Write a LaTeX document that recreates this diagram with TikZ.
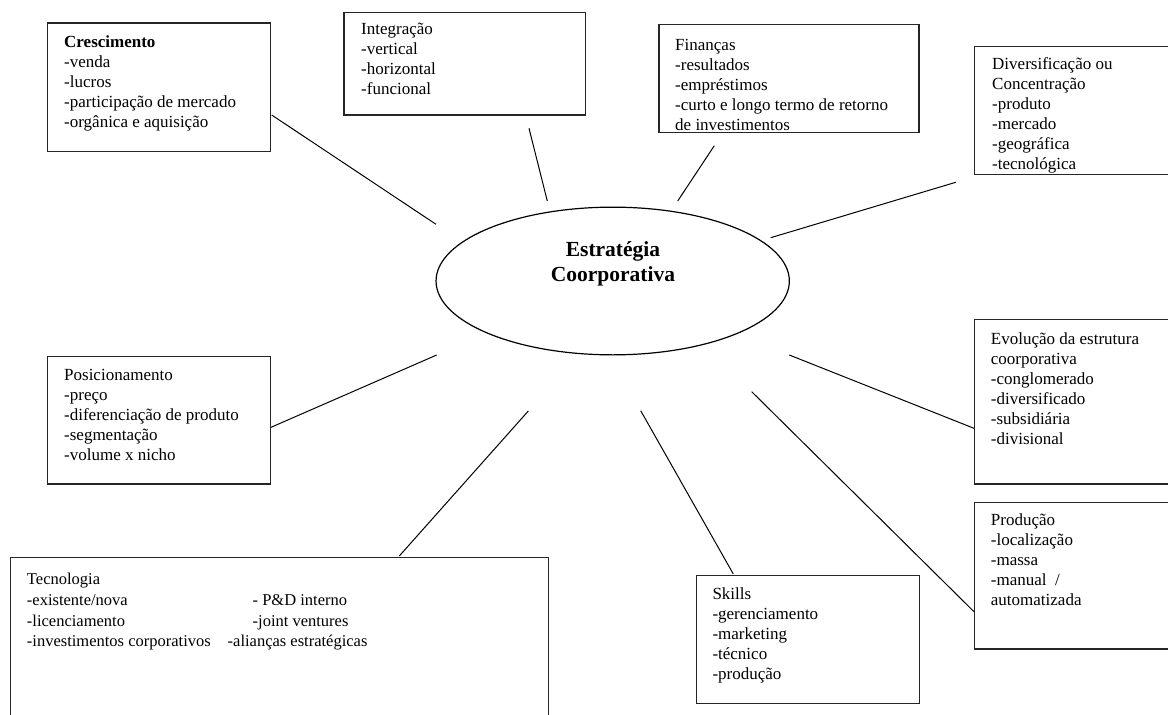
\documentclass[tikz,border=0pt]{standalone}
\usepackage{fontspec}
\setmainfont{Liberation Serif}
\usetikzlibrary{shapes.geometric}
\newcommand{\mlines}[1]{\begin{tabular}[t]{@{}l@{}}#1\end{tabular}}
\newcommand{\mlinesc}[1]{\begin{tabular}[t]{@{}c@{}}#1\end{tabular}}
\begin{document}
\begin{tikzpicture}[x=1pt,y=-1pt,
  boxst/.style={draw=black!85, line width=1.2pt, rectangle, anchor=north west, inner sep=0pt},
  link/.style={draw=black, line width=1pt},
  txt/.style={anchor=base west, inner sep=0pt, font=\fontsize{17}{20}\selectfont},
  ]
\useasboundingbox (0,0) rectangle (1168,715);
\clip (0,0) rectangle (1168,715);

% boxes
\node[boxst, minimum width=223.3pt, minimum height=128.4pt] (bCresc) at (46.7,22.3) {};
\node[boxst, minimum width=241.7pt, minimum height=102.6pt] (bInteg) at (343.3,11.7) {};
\node[boxst, minimum width=260pt, minimum height=107.7pt] (bFin) at (658.3,24) {};
\node[boxst, minimum width=220pt, minimum height=128.3pt] (bDiv) at (974,45.7) {};
\node[boxst, minimum width=223.3pt, minimum height=127.6pt] (bPos) at (46.7,355.7) {};
\node[boxst, minimum width=220pt, minimum height=164.3pt] (bEvo) at (974,319) {};
\node[boxst, minimum width=220pt, minimum height=146.6pt] (bProd) at (974,501.7) {};
\node[boxst, minimum width=223.3pt, minimum height=127.7pt] (bSkills) at (695.7,575) {};
\node[boxst, minimum width=538.1pt, minimum height=200pt] (bTec) at (9.6,557) {};

% central ellipse
\node[ellipse, draw=black, line width=1.2pt, minimum width=353.3pt, minimum height=147.7pt, inner sep=0pt] (center) at (612.7,281) {};
\node[anchor=base, inner sep=0pt, font=\fontsize{21.5}{25}\selectfont\bfseries] (tCenter) at (613,256.7) {\mlinesc{Estratégia\\Coorporativa}};

% texts
\node[txt] (tCresc) at (64,47.3) {\mlines{\textbf{Crescimento}\\-venda\\-lucros\\-participação de mercado\\-orgânica e aquisição}};
\node[txt] (tInteg) at (361,34.5) {\mlines{Integração\\-vertical\\-horizontal\\-funcional}};
\node[txt] (tFin) at (675,50) {\mlines{Finanças\\-resultados\\-empréstimos\\-curto e longo termo de retorno\\de investimentos}};
\node[txt] (tDiv) at (992,69) {\mlines{Diversificação ou\\Concentração\\-produto\\-mercado\\-geográfica\\-tecnológica}};
\node[txt] (tPos) at (64,380) {\mlines{Posicionamento\\-preço\\-diferenciação de produto\\-segmentação\\-volume x nicho}};
\node[txt] (tEvo) at (990.7,344.3) {\mlines{Evolução da estrutura\\coorporativa\\-conglomerado\\-diversificado\\-subsidiária\\-divisional}};
\node[txt] (tProd) at (990.7,525.7) {\mlines{Produção\\-localização\\-massa\\-manual~~/\\automatizada}};
\node[txt] (tSkills) at (712.3,599.3) {\mlines{Skills\\-gerenciamento\\-marketing\\-técnico\\-produção}};
\node[txt, font=\fontsize{16.5}{20.7}\selectfont] (tTec) at (26.8,584.6) {\mlines{Tecnologia\\-existente/nova\\-licenciamento\\-investimentos corporativos}};
\node[txt, font=\fontsize{16.5}{20.7}\selectfont] (tTec2) at (252.5,605.3) {\mlines{- P\&D interno\\-joint ventures}};
\node[txt, font=\fontsize{16.5}{20.7}\selectfont] (tTec3) at (227.5,646.7) {-alianças estratégicas};

% connector ends
\coordinate (c1a) at (271.7,115);   \coordinate (c1b) at (436,224.3);
\coordinate (c2a) at (529,128.3);   \coordinate (c2b) at (547.3,201);
\coordinate (c3a) at (714.3,145.7); \coordinate (c3b) at (677.7,201);
\coordinate (c4a) at (955.7,182.3); \coordinate (c4b) at (770.7,237.7);
\coordinate (c5a) at (271,427.3);   \coordinate (c5b) at (436.7,355);
\coordinate (c6a) at (974,428.3);   \coordinate (c6b) at (789.3,355);
\coordinate (c7a) at (974,611.7);   \coordinate (c7b) at (751.7,391.7);
\coordinate (c8a) at (733.3,574);   \coordinate (c8b) at (640.7,410.7);
\coordinate (c9a) at (399.3,556);   \coordinate (c9b) at (528.3,411);

\draw[link] (c1a) -- (c1b);
\draw[link] (c2a) -- (c2b);
\draw[link] (c3a) -- (c3b);
\draw[link] (c4a) -- (c4b);
\draw[link] (c5a) -- (c5b);
\draw[link] (c6a) -- (c6b);
\draw[link] (c7a) -- (c7b);
\draw[link] (c8a) -- (c8b);
\draw[link] (c9a) -- (c9b);
\end{tikzpicture}
\end{document}
